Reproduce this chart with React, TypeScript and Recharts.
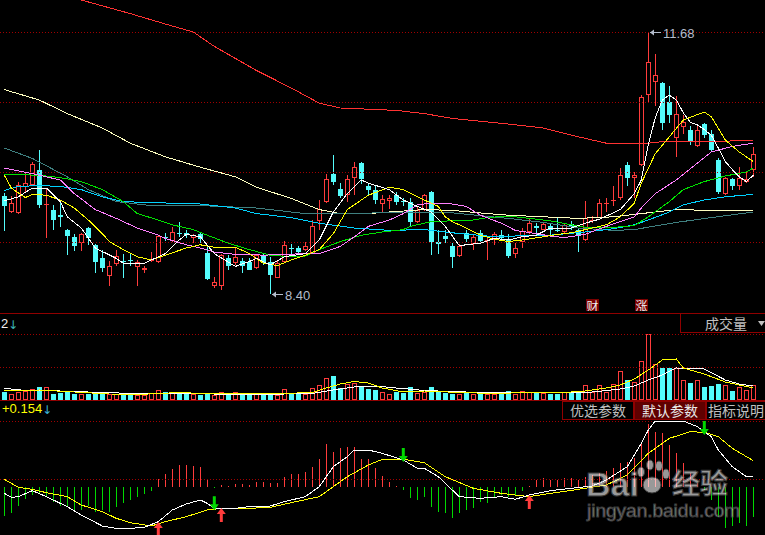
import React from 'react'
import { ComposedChart, Bar, Line, XAxis, YAxis, ReferenceLine, ReferenceDot } from 'recharts'

const RED = '#ff3c3c'
const CYAN = '#54fcfc'
const GREEN = '#00d800'
const GRID = '#a00000'
const SEP = '#900000'

// daily candles, 108 sessions
const opens = [9.63, 9.43, 9.42, 9.74, 9.77, 9.96, 9.52, 9.46, 9.39, 9.21, 9.12, 9.04, 9.23, 9.02, 8.85, 8.63, 8.78, 8.82, 8.83, 8.74, 8.70, 8.82, 8.81, 9.12, 9.07, 9.17, 9.17, 9.10, 9.15, 8.92, 8.51, 8.51, 8.86, 8.79, 8.82, 8.80, 8.73, 8.88, 8.80, 8.61, 8.81, 8.98, 8.98, 8.95, 8.91, 9.32, 9.55, 9.90, 9.72, 9.64, 9.86, 10.04, 9.76, 9.71, 9.53, 9.57, 9.64, 9.57, 9.56, 9.30, 9.45, 9.68, 9.06, 9.13, 9.01, 8.88, 9.17, 9.03, 9.17, 9.07, 9.08, 9.14, 9.09, 8.91, 9.05, 9.18, 9.26, 9.21, 9.26, 9.21, 9.18, 9.28, 9.20, 9.08, 9.32, 9.36, 9.53, 9.57, 9.61, 10.02, 9.85, 10.02, 10.89, 11.05, 11.04, 10.81, 10.35, 10.49, 10.46, 10.25, 10.53, 10.41, 10.08, 9.66, 9.84, 9.75, 9.81, 9.96]
const closes = [9.51, 9.54, 9.77, 9.79, 10.03, 9.52, 9.53, 9.33, 9.37, 9.13, 9.00, 9.16, 9.11, 8.81, 8.73, 8.76, 8.88, 8.81, 8.82, 8.80, 8.73, 8.83, 9.13, 9.11, 9.18, 9.15, 9.14, 9.14, 9.09, 8.59, 8.56, 8.89, 8.76, 8.87, 8.76, 8.71, 8.89, 8.80, 8.64, 8.79, 9.02, 8.97, 8.93, 9.00, 9.26, 9.47, 9.84, 9.81, 9.63, 9.84, 9.99, 9.84, 9.70, 9.58, 9.59, 9.61, 9.56, 9.55, 9.30, 9.46, 9.64, 9.06, 9.03, 9.09, 8.87, 9.01, 9.09, 9.12, 9.07, 9.08, 9.15, 9.11, 8.88, 8.98, 9.19, 9.29, 9.23, 9.28, 9.20, 9.20, 9.27, 9.24, 9.14, 9.36, 9.33, 9.54, 9.54, 9.58, 9.89, 9.86, 9.89, 10.87, 11.30, 11.14, 10.54, 10.64, 10.65, 10.56, 10.32, 10.46, 10.39, 10.20, 9.68, 9.85, 9.75, 9.86, 9.84, 10.16]
const highs = [9.67, 9.63, 9.81, 9.93, 10.06, 10.21, 9.73, 9.52, 9.55, 9.22, 9.16, 9.17, 9.24, 9.03, 8.96, 8.82, 8.96, 8.91, 8.92, 8.83, 8.75, 8.93, 9.14, 9.17, 9.24, 9.31, 9.20, 9.16, 9.17, 9.00, 8.62, 8.91, 8.89, 8.98, 8.85, 8.86, 8.91, 8.91, 8.87, 8.82, 9.07, 9.03, 9.00, 9.05, 9.33, 9.58, 9.91, 10.14, 9.79, 9.89, 10.05, 10.05, 9.79, 9.75, 9.64, 9.64, 9.68, 9.61, 9.60, 9.50, 9.66, 9.69, 9.21, 9.21, 9.04, 9.03, 9.21, 9.16, 9.21, 9.12, 9.18, 9.21, 9.16, 9.04, 9.23, 9.35, 9.29, 9.30, 9.29, 9.36, 9.29, 9.32, 9.23, 9.57, 9.38, 9.59, 9.60, 9.75, 9.98, 10.06, 9.93, 10.89, 11.68, 11.41, 11.05, 11.00, 10.88, 10.64, 10.50, 10.52, 10.54, 10.46, 10.10, 9.87, 9.85, 9.99, 9.93, 10.24]
const lows = [9.19, 9.42, 9.41, 9.68, 9.76, 9.48, 9.11, 9.21, 9.24, 8.89, 8.94, 8.94, 9.02, 8.67, 8.68, 8.51, 8.75, 8.61, 8.75, 8.51, 8.67, 8.81, 8.79, 9.07, 9.06, 9.12, 9.10, 9.04, 9.04, 8.58, 8.48, 8.46, 8.70, 8.77, 8.67, 8.70, 8.72, 8.77, 8.40, 8.60, 8.80, 8.91, 8.89, 8.94, 8.90, 9.20, 9.54, 9.77, 9.60, 9.56, 9.64, 9.78, 9.64, 9.53, 9.43, 9.47, 9.52, 9.50, 9.26, 9.29, 9.44, 8.89, 8.91, 9.04, 8.73, 8.87, 9.05, 8.96, 9.06, 8.83, 9.02, 9.09, 8.85, 8.86, 8.98, 9.16, 9.14, 9.20, 9.14, 9.18, 9.16, 9.20, 8.93, 9.07, 9.29, 9.35, 9.43, 9.50, 9.58, 9.75, 9.60, 10.00, 10.79, 10.75, 10.46, 10.54, 10.12, 10.41, 10.27, 10.24, 10.35, 10.18, 9.66, 9.64, 9.70, 9.70, 9.79, 9.87]
// volume, 10k lots
const volumes = [0.77, 0.63, 0.77, 0.90, 1.10, 1.30, 1.30, 0.63, 0.70, 0.83, 0.63, 0.57, 0.63, 0.70, 0.57, 0.57, 0.57, 0.63, 0.63, 0.50, 0.50, 0.67, 0.97, 0.77, 0.67, 0.70, 0.70, 0.57, 0.50, 0.63, 0.50, 0.77, 0.57, 0.77, 0.57, 0.63, 0.57, 0.57, 0.57, 0.50, 1.10, 0.63, 0.63, 0.57, 1.17, 1.50, 2.17, 2.40, 1.17, 1.57, 1.67, 1.37, 1.10, 1.00, 0.77, 0.60, 0.77, 0.70, 1.30, 0.70, 0.80, 1.30, 0.77, 0.70, 0.63, 0.60, 0.77, 0.60, 0.60, 0.57, 0.60, 0.77, 0.90, 0.60, 0.90, 0.80, 0.77, 0.70, 0.60, 0.60, 0.80, 0.77, 0.90, 1.50, 0.80, 1.50, 0.80, 1.57, 2.90, 2.00, 1.83, 3.90, 6.57, 3.57, 3.23, 3.23, 3.17, 2.00, 1.67, 2.00, 1.33, 1.40, 1.60, 1.50, 0.90, 1.33, 1.00, 1.50]
// MACD histogram
const macdBars = [-0.172, -0.158, -0.114, -0.074, -0.048, -0.034, -0.058, -0.088, -0.114, -0.122, -0.148, -0.138, -0.114, -0.148, -0.138, -0.148, -0.118, -0.098, -0.078, -0.058, -0.044, -0.022, 0.048, 0.078, 0.106, 0.132, 0.132, 0.128, 0.118, 0.048, -0.003, 0.012, 0.006, 0.018, 0.018, 0.012, 0.032, 0.032, 0.022, 0.026, 0.058, 0.078, 0.078, 0.092, 0.122, 0.166, 0.258, 0.212, 0.232, 0.242, 0.242, 0.166, 0.166, 0.112, 0.066, 0.032, 0.006, -0.020, -0.066, -0.078, -0.060, -0.118, -0.148, -0.158, -0.188, -0.158, -0.138, -0.128, -0.088, -0.098, -0.060, -0.048, -0.060, -0.048, -0.022, 0.006, 0.042, 0.052, 0.042, 0.042, 0.052, 0.052, 0.042, 0.058, 0.072, 0.086, 0.098, 0.112, 0.146, 0.152, 0.172, 0.266, 0.378, 0.332, 0.322, 0.250, 0.204, 0.142, 0.082, 0.022, -0.018, -0.078, -0.178, -0.244, -0.234, -0.218, -0.234, -0.178]

// moving averages as [day, value]
const ma5 = [[0, 9.57], [2, 9.62], [4, 9.73], [6, 9.73], [8, 9.56], [9, 9.37], [11, 9.23], [13, 8.98], [16, 8.85], [17, 8.79], [20, 8.79], [23, 8.91], [25, 9.08], [26, 9.15], [28, 9.12], [30, 8.91], [33, 8.75], [35, 8.81], [36, 8.85], [38, 8.77], [40, 8.87], [43, 8.91], [45, 9.08], [47, 9.43], [49, 9.66], [51, 9.83], [52, 9.79], [55, 9.71], [57, 9.58], [59, 9.50], [61, 9.43], [63, 9.25], [65, 9.01], [68, 9.04], [70, 9.10], [72, 9.08], [74, 9.12], [76, 9.14], [78, 9.23], [81, 9.23], [83, 9.29], [85, 9.34], [88, 9.46], [90, 9.66], [91, 9.83], [92, 10.27], [93, 10.61], [94, 10.83], [95, 10.89], [96, 10.83], [97, 10.67], [98, 10.55], [99, 10.52], [100, 10.46], [101, 10.39], [102, 10.23], [103, 10.06], [104, 9.96], [105, 9.87], [106, 9.81], [107, 9.89]]
const ma10 = [[0, 9.89], [1, 9.73], [3, 9.61], [4, 9.65], [6, 9.64], [8, 9.58], [10, 9.48], [12, 9.33], [14, 9.16], [15, 9.06], [17, 8.96], [19, 8.87], [21, 8.83], [23, 8.89], [26, 8.98], [28, 9.02], [30, 8.99], [33, 8.99], [35, 8.91], [37, 8.79], [39, 8.76], [41, 8.83], [43, 8.89], [45, 8.96], [47, 9.16], [49, 9.46], [52, 9.64], [55, 9.74], [57, 9.71], [59, 9.62], [62, 9.50], [63, 9.37], [64, 9.31], [66, 9.23], [68, 9.14], [70, 9.09], [72, 9.06], [74, 9.08], [77, 9.12], [79, 9.15], [81, 9.17], [84, 9.23], [86, 9.27], [88, 9.37], [90, 9.54], [91, 9.79], [93, 10.16], [95, 10.37], [97, 10.58], [100, 10.68], [101, 10.62], [103, 10.33], [105, 10.18], [107, 10.06]]
const ma20 = [[0, 9.98], [4, 9.91], [8, 9.83], [10, 9.66], [13, 9.46], [16, 9.35], [19, 9.23], [22, 9.14], [23, 9.10], [26, 9.02], [28, 8.98], [30, 8.93], [33, 8.90], [35, 8.90], [37, 8.89], [40, 8.90], [43, 8.91], [45, 8.91], [48, 9.00], [50, 9.12], [52, 9.25], [55, 9.33], [57, 9.41], [59, 9.52], [61, 9.54], [64, 9.53], [66, 9.50], [68, 9.39], [71, 9.29], [73, 9.20], [76, 9.16], [78, 9.13], [80, 9.11], [83, 9.15], [85, 9.22], [88, 9.31], [90, 9.37], [91, 9.48], [93, 9.66], [96, 9.83], [99, 10.04], [101, 10.18], [104, 10.25], [107, 10.29]]
const ma30 = [[0, 9.90], [5, 9.89], [8, 9.86], [11, 9.81], [14, 9.71], [17, 9.56], [19, 9.41], [22, 9.33], [24, 9.27], [27, 9.21], [29, 9.14], [32, 9.04], [35, 8.96], [38, 8.89], [41, 8.87], [43, 8.88], [45, 8.96], [48, 9.06], [51, 9.14], [54, 9.18], [57, 9.21], [58, 9.25], [61, 9.31], [64, 9.32], [67, 9.33], [69, 9.36], [72, 9.38], [75, 9.35], [78, 9.32], [81, 9.27], [83, 9.24], [86, 9.23], [90, 9.26], [92, 9.37], [95, 9.56], [97, 9.71], [100, 9.81], [103, 9.88], [106, 9.93], [107, 9.98]]
const ma60 = [[0, 9.70], [2, 9.75], [5, 9.76], [8, 9.75], [11, 9.71], [14, 9.62], [17, 9.56], [20, 9.55], [28, 9.53], [33, 9.48], [36, 9.41], [41, 9.36], [45, 9.29], [50, 9.23], [55, 9.20], [60, 9.21], [64, 9.17], [69, 9.13], [73, 9.13], [78, 9.14], [83, 9.18], [87, 9.22], [90, 9.27], [92, 9.33], [95, 9.43], [97, 9.52], [100, 9.58], [103, 9.62], [107, 9.65]]
const ma120 = [[0, 10.23], [4, 10.10], [9, 9.87], [12, 9.71], [16, 9.56], [21, 9.51], [28, 9.51], [36, 9.48], [43, 9.41], [50, 9.41], [57, 9.43], [64, 9.42], [72, 9.35], [77, 9.30], [82, 9.23], [87, 9.20], [90, 9.21], [96, 9.30], [101, 9.36], [107, 9.43]]
const ma180 = [[0, 10.96], [5, 10.83], [9, 10.66], [14, 10.48], [18, 10.29], [23, 10.12], [28, 9.99], [33, 9.87], [36, 9.74], [41, 9.60], [45, 9.46], [48, 9.41], [52, 9.41], [55, 9.43], [60, 9.46], [64, 9.45], [69, 9.41], [72, 9.39], [77, 9.37], [82, 9.35], [87, 9.37], [91, 9.41], [96, 9.46], [101, 9.45], [107, 9.45]]
const ma250 = [[0, 12.34], [6, 12.21], [11, 12.08], [18, 11.91], [23, 11.78], [27, 11.68], [30, 11.50], [36, 11.20], [41, 10.98], [45, 10.79], [48, 10.73], [56, 10.70], [60, 10.66], [64, 10.60], [72, 10.53], [77, 10.48], [82, 10.37], [86, 10.29], [92, 10.29], [94, 10.31], [107, 10.32]]

const volMa5 = [[0, 0.90], [5, 1.00], [10, 0.80], [15, 0.60], [20, 0.58], [25, 0.75], [30, 0.60], [35, 0.65], [40, 0.66], [44, 0.75], [46, 1.20], [48, 1.60], [50, 1.85], [52, 1.70], [54, 1.20], [57, 0.80], [60, 0.90], [65, 0.75], [70, 0.65], [75, 0.75], [80, 0.75], [83, 0.90], [86, 1.20], [88, 1.50], [90, 2.10], [92, 3.00], [94, 4.00], [96, 4.10], [97, 3.20], [100, 2.60], [103, 1.80], [105, 1.50], [107, 1.20]]
const volMa10 = [[0, 1.17], [3, 0.95], [8, 0.90], [14, 0.75], [20, 0.62], [30, 0.60], [40, 0.60], [44, 0.65], [47, 1.00], [50, 1.30], [53, 1.40], [56, 1.20], [60, 0.95], [66, 0.80], [72, 0.70], [80, 0.72], [84, 0.80], [88, 1.10], [90, 1.40], [92, 2.00], [94, 2.50], [96, 3.20], [100, 3.10], [103, 2.00], [105, 1.60], [107, 1.40]]

const difLine = [[0, -0.038], [1, -0.062], [2, -0.058], [4, -0.022], [6, -0.058], [9, -0.118], [11, -0.168], [14, -0.234], [16, -0.248], [18, -0.248], [20, -0.242], [22, -0.208], [24, -0.138], [26, -0.102], [28, -0.078], [29, -0.098], [30, -0.128], [33, -0.128], [35, -0.118], [38, -0.114], [40, -0.088], [43, -0.058], [45, 0.002], [47, 0.122], [49, 0.182], [50, 0.222], [52, 0.222], [54, 0.202], [57, 0.162], [59, 0.112], [60, 0.112], [62, 0.062], [64, -0.018], [65, -0.058], [68, -0.068], [71, -0.058], [73, -0.074], [75, -0.048], [78, -0.022], [81, -0.008], [84, 0.006], [86, 0.042], [89, 0.122], [91, 0.262], [92, 0.342], [93, 0.396], [97, 0.396], [99, 0.362], [101, 0.302], [102, 0.222], [104, 0.122], [106, 0.062], [107, 0.062]]
const deaLine = [[0, 0.046], [2, -0.002], [4, -0.014], [6, -0.034], [9, -0.058], [11, -0.108], [14, -0.148], [16, -0.188], [18, -0.214], [21, -0.234], [23, -0.208], [26, -0.178], [29, -0.138], [31, -0.128], [35, -0.128], [38, -0.122], [41, -0.094], [45, -0.058], [47, 0.002], [49, 0.062], [52, 0.132], [54, 0.166], [57, 0.166], [60, 0.146], [63, 0.062], [67, -0.008], [71, -0.038], [75, -0.058], [78, -0.038], [82, -0.014], [86, 0.012], [89, 0.072], [92, 0.202], [95, 0.292], [98, 0.332], [100, 0.328], [102, 0.302], [104, 0.232], [107, 0.158]]

const goldenCross = [[22, -0.21], [31, -0.126], [75, -0.048]]
const deathCross = [[30, -0.14], [57, 0.15], [100, 0.312]]

const priceGrid = [9.055, 9.93, 10.805, 11.68]
const volGrid = [3.3, 6.6]
const macdGrid = [0.048, 0.396]
const highMark = [92, 11.68]
const lowMark = [38, 8.4]

const candles = opens.map((o, i) => ({
  i,
  open: o,
  close: closes[i],
  high: highs[i],
  low: lows[i],
  range: [lows[i], highs[i]],
  vol: volumes[i],
  macd: macdBars[i],
}))
const pts = (arr: number[][]) => arr.map(([i, v]) => ({ i, v }))

const X_DOMAIN = [-0.614, 108.671]

function Candle(props: any) {
  const { x, y, width, height, payload } = props
  const { open, close, high, low } = payload
  const k = high > low ? height / (high - low) : 0
  const py = (v: number) => Math.round(y + (high - v) * k)
  const cx = Math.floor(x + width / 2)
  const yH = py(high)
  const yL = py(low)
  const yT = py(Math.max(open, close))
  const yB = py(Math.min(open, close))
  if (close >= open) {
    return (
      <g shapeRendering="crispEdges" fill={RED}>
        <rect x={cx} y={yH} width={1} height={Math.max(yT - yH, 0)} />
        <rect x={cx} y={yB} width={1} height={Math.max(yL - yB, 0)} />
        {yB - yT < 2 ? (
          <rect x={cx - 2} y={yT} width={5} height={1} />
        ) : (
          <rect x={cx - 1.5} y={yT + 0.5} width={4} height={yB - yT - 1} fill="#000" stroke={RED} />
        )}
      </g>
    )
  }
  return (
    <g shapeRendering="crispEdges" fill={CYAN}>
      <rect x={cx} y={yH} width={1} height={Math.max(yL - yH, 1)} />
      <rect x={cx - 2} y={yT} width={5} height={Math.max(yB - yT, 1)} />
    </g>
  )
}

function VolBar(props: any) {
  const { x, y, width, height, payload } = props
  const cx = Math.floor(x + width / 2)
  const top = Math.round(y)
  const bot = Math.round(y + height)
  if (payload.close >= payload.open) {
    return <rect shapeRendering="crispEdges" x={cx - 1.5} y={top + 0.5} width={4} height={Math.max(bot - top - 1, 0)} fill="#000" stroke={RED} />
  }
  return <rect shapeRendering="crispEdges" x={cx - 2} y={top} width={5} height={bot - top} fill={CYAN} />
}

function MacdBar(props: any) {
  const { x, y, width, height, payload } = props
  const cx = Math.floor(x + width / 2)
  const y0 = Math.min(y, y + height)
  return <rect shapeRendering="crispEdges" x={cx} y={y0} width={1} height={Math.max(Math.abs(height), 1)} fill={payload.macd >= 0 ? RED : GREEN} />
}

function UpArrow(props: any) {
  const { cx, cy } = props
  const p = `${cx},${cy} ${cx + 4.5},${cy + 6} ${cx + 1.5},${cy + 6} ${cx + 1.5},${cy + 14} ${cx - 1.5},${cy + 14} ${cx - 1.5},${cy + 6} ${cx - 4.5},${cy + 6}`
  return <polygon points={p} fill={RED} />
}

function DownArrow(props: any) {
  const { cx, cy } = props
  const p = `${cx},${cy} ${cx + 4.5},${cy - 6} ${cx + 1.5},${cy - 6} ${cx + 1.5},${cy - 14} ${cx - 1.5},${cy - 14} ${cx - 1.5},${cy - 6} ${cx - 4.5},${cy - 6}`
  return <polygon points={p} fill={GREEN} />
}

function PriceTag(props: any) {
  const { cx, cy, text } = props
  const x0 = Math.floor(cx) + 1
  const yy = Math.round(cy) + 0.5
  return (
    <g>
      <line x1={x0 + 1} y1={yy} x2={x0 + 12} y2={yy} stroke="#b4bccc" />
      <polygon points={`${x0 + 1},${yy} ${x0 + 5},${yy - 3} ${x0 + 5},${yy + 3}`} fill="#b4bccc" />
      <text x={x0 + 14} y={yy + 5} fill="#b4bccc" fontSize={13} fontFamily="Liberation Sans, Arial, sans-serif">{text}</text>
    </g>
  )
}

const lineProps = { dot: false, isAnimationActive: false, type: 'linear' as const, strokeWidth: 1, dataKey: 'v', activeDot: false, shapeRendering: 'crispEdges' }

function Tab({ x, w, label, active }: { x: number; w: number; label: string; active?: boolean }) {
  return (
    <g>
      <rect x={x + 0.5} y={401.5} width={w - 1} height={18} fill={active ? '#600000' : '#000'} stroke={SEP} />
      <text x={x + w / 2} y={416} textAnchor="middle" fill={active ? '#e8e8e8' : '#c0c0c0'} fontSize={14} fontFamily="Noto Sans CJK SC, sans-serif">{label}</text>
    </g>
  )
}

export default function App() {
  return (
    <div style={{ position: 'absolute', left: 0, top: 0, width: 765, height: 535, background: '#000', overflow: 'hidden' }}>
      <div style={{ position: 'absolute', left: 0, top: 0 }}>
        <ComposedChart width={765} height={310} data={candles} margin={{ top: 0, right: 0, bottom: 0, left: 0 }}>
          <XAxis type="number" dataKey="i" domain={X_DOMAIN} hide allowDataOverflow />
          <YAxis type="number" domain={[8.205, 12.08]} hide allowDataOverflow />
          {priceGrid.map((v) => (
            <ReferenceLine key={v} y={v} stroke={GRID} strokeDasharray="1 2" shapeRendering="crispEdges" />
          ))}
          <Line {...lineProps} data={pts(ma250)} stroke="#ff3232" />
          <Line {...lineProps} data={pts(ma180)} stroke="#ffffc0" />
          <Line {...lineProps} data={pts(ma120)} stroke="#3f8080" />
          <Line {...lineProps} data={pts(ma60)} stroke="#00d2ff" />
          <Line {...lineProps} data={pts(ma30)} stroke="#00e000" />
          <Line {...lineProps} data={pts(ma20)} stroke="#ff80ff" />
          <Line {...lineProps} data={pts(ma10)} stroke="#ffff00" />
          <Line {...lineProps} data={pts(ma5)} stroke="#ffffff" />
          <Bar dataKey="range" barSize={5} shape={<Candle />} isAnimationActive={false} />
          <ReferenceDot x={highMark[0]} y={highMark[1]} r={0} shape={(p: any) => <PriceTag {...p} text="11.68" />} />
          <ReferenceDot x={lowMark[0]} y={lowMark[1]} r={0} shape={(p: any) => <PriceTag {...p} text="8.40" />} />
        </ComposedChart>
      </div>
      <div style={{ position: 'absolute', left: 0, top: 313 }}>
        <ComposedChart width={765} height={87} data={candles} margin={{ top: 20, right: 0, bottom: 0, left: 0 }}>
          <XAxis type="number" dataKey="i" domain={X_DOMAIN} hide allowDataOverflow />
          <YAxis type="number" domain={[0, 6.7]} hide allowDataOverflow />
          {volGrid.map((v) => (
            <ReferenceLine key={v} y={v} stroke={GRID} strokeDasharray="1 2" shapeRendering="crispEdges" />
          ))}
          <Bar dataKey="vol" barSize={5} shape={<VolBar />} isAnimationActive={false} />
          <Line {...lineProps} data={pts(volMa10)} stroke="#ffffff" />
          <Line {...lineProps} data={pts(volMa5)} stroke="#ffff00" />
        </ComposedChart>
      </div>
      <div style={{ position: 'absolute', left: 0, top: 401 }}>
        <ComposedChart width={765} height={134} data={candles} margin={{ top: 20, right: 0, bottom: 0, left: 0 }}>
          <XAxis type="number" dataKey="i" domain={X_DOMAIN} hide allowDataOverflow />
          <YAxis type="number" domain={[-0.288, 0.396]} hide allowDataOverflow />
          {macdGrid.map((v) => (
            <ReferenceLine key={v} y={v} stroke={GRID} strokeDasharray="1 2" shapeRendering="crispEdges" />
          ))}
          <Bar dataKey="macd" barSize={1} shape={<MacdBar />} isAnimationActive={false} />
          <Line {...lineProps} data={pts(deaLine)} stroke="#ffff00" />
          <Line {...lineProps} data={pts(difLine)} stroke="#ffffff" />
          {goldenCross.map(([i, v]) => (
            <ReferenceDot key={'g' + i} x={i} y={v} r={0} shape={(p: any) => <UpArrow {...p} />} />
          ))}
          {deathCross.map(([i, v]) => (
            <ReferenceDot key={'d' + i} x={i} y={v} r={0} shape={(p: any) => <DownArrow {...p} />} />
          ))}
        </ComposedChart>
      </div>
      <svg width={765} height={535} style={{ position: 'absolute', left: 0, top: 0, pointerEvents: 'none' }}>
        <g shapeRendering="crispEdges">
          <rect x={586} y={299} width={13} height={12} fill="#7a0000" />
          <rect x={635} y={299} width={13} height={12} fill="#7a0000" />
        </g>
        <text x={592.5} y={311} textAnchor="middle" fill="#f0f0f0" fontSize={12} fontFamily="Noto Sans CJK SC, sans-serif">财</text>
        <text x={641.5} y={311} textAnchor="middle" fill="#f0f0f0" fontSize={12} fontFamily="Noto Sans CJK SC, sans-serif">涨</text>
        <rect x={0} y={311} width={765} height={2} fill="#000" />
        <line x1={0} y1={313.5} x2={765} y2={313.5} stroke={SEP} shapeRendering="crispEdges" />
        <line x1={0} y1={400.5} x2={765} y2={400.5} stroke={SEP} shapeRendering="crispEdges" />
        <text x={1} y={328} fill="#f0f0f0" fontSize={13} fontFamily="Liberation Sans, Arial, sans-serif">2</text>
        <text x={8} y={329} fill="#3cb4b4" fontSize={12} fontFamily="DejaVu Sans, sans-serif">↓</text>
        <rect x={680.5} y={313.5} width={90} height={19} fill="#000" stroke={SEP} shapeRendering="crispEdges" />
        <text x={726} y={329} textAnchor="middle" fill="#c0c0c0" fontSize={14} fontFamily="Noto Sans CJK SC, sans-serif">成交量</text>
        <polygon points="758,321 765,321 761.5,326" fill="#c0c0c0" />
        <text x={2} y={413} fill="#ffff00" fontSize={13} fontFamily="Liberation Sans, Arial, sans-serif">+0.154</text>
        <text x={42} y={414} fill="#3cb4d8" fontSize={12} fontFamily="DejaVu Sans, sans-serif">↓</text>
        <Tab x={562} w={72} label="优选参数" />
        <Tab x={634} w={72} label="默认参数" active />
        <Tab x={706} w={60} label="指标说明" />
        <g opacity={0.6} fill="#ffffff" stroke="#606060" strokeWidth={1}>
          <text x={586} y={496} fontSize={34} fontWeight="bold" fontFamily="Liberation Sans, Arial, sans-serif">Bai</text>
          <ellipse cx={652} cy={485} rx={9} ry={8} />
          <ellipse cx={641} cy={472} rx={3.5} ry={5} />
          <ellipse cx={650} cy={465} rx={3.5} ry={5} />
          <ellipse cx={659} cy={466} rx={3.5} ry={5} />
          <ellipse cx={666} cy={474} rx={3.5} ry={5} />
          <text x={672} y={494} fontSize={28} fontWeight="bold" fontFamily="Noto Sans CJK SC, sans-serif">经验</text>
          <text x={587} y={517} fontSize={19} fontFamily="Liberation Sans, Arial, sans-serif">jingyan.baidu.com</text>
        </g>
      </svg>
    </div>
  )
}
